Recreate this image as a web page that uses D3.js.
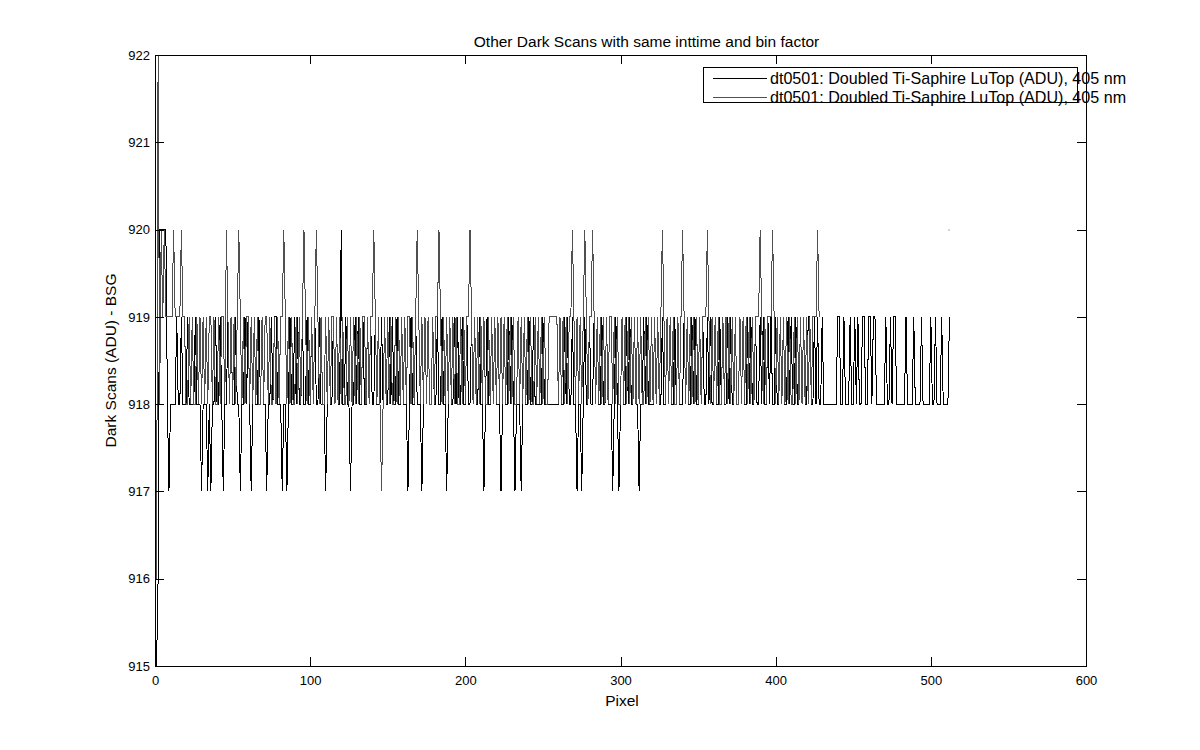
<!DOCTYPE html>
<html><head><meta charset="utf-8">
<script src="https://cdn.jsdelivr.net/npm/d3@7"></script>
<style>
body{margin:0;background:#fff;}
svg text{font-family:"Liberation Sans",Arial,sans-serif;fill:#000;}
</style></head><body>
<svg id="chart" width="1200" height="750"></svg>
<script>
const chartTitle = "Other Dark Scans with same inttime and bin factor";
const xLabel = "Pixel";
const yLabel = "Dark Scans (ADU) - BSG";
const legendLabels = ["dt0501: Doubled Ti-Saphire LuTop (ADU), 405 nm", "dt0501: Doubled Ti-Saphire LuTop (ADU), 405 nm"];
const xTicks = [0, 100, 200, 300, 400, 500, 600];
const yTicks = [915, 916, 917, 918, 919, 920, 921, 922];

// series 1 (black), value for pixel 1..512
const blackScan = [
915,916,920,920,920,920,920, 918,917,918,918,918,918,919,918, 918,919,918,918,918,919,918,918, 918,918,919,918,918,918,917,918,
918,918,917,918,917,918,918,919, 918,918,919,918,917,918,918,919, 918,919,918,918,919,918,918,917, 918,918,919,918,919,918,917,918,
919,918,918,919,918,919,918,918, 917,918,918,919,918,919,919,918, 918,918,917,918,918,917,918,919, 918,918,919,918,919,918,918,919,
918,918,919,918,918,919,918,919, 918,918,919,918,918,918,917,918, 919,918,918,919,918,919,918,918, 920,918,918,919,918,918,917,918,
918,919,918,919,918,918,919,918, 918,919,918,919,918,918,919,918, 918,918,919,918,919,918,918,919, 918,919,918,918,919,918,918,919,
918,918,918,917,918,919,918,918, 919,918,918,918,917,918,919,918, 919,918,918,919,918,918,919,918, 918,919,918,918,917,918,919,918,
918,919,918,919,918,918,919,918, 918,919,918,918,919,918,919,918, 918,919,918,918,917,918,919,918, 918,919,918,919,918,918,918,917,
918,919,918,918,919,918,919,918, 917,918,918,918,917,918,919,918, 918,919,918,918,919,918,918,918, 918,918,919,918,918,918,918,918,
918,918,918,918,918,919,918,918, 919,918,919,918,918,919,918,918, 917,918,918,917,918,919,918,918, 919,918,918,919,918,919,918,918,
919,918,918,919,918,918,918,917, 918,919,918,917,918,919,918,918, 919,918,919,918,918,919,918,918, 917,918,918,919,918,919,918,918,
918,918,919,918,919,918,918,919, 918,918,919,918,919,918,918,919, 918,919,918,918,918,919,918,919, 918,918,919,918,919,918,918,919,
918,919,918,918,919,918,919,918, 918,919,918,918,919,918,919,918, 918,919,918,919,918,918,919,918, 918,919,918,919,918,918,919,918,
919,918,918,919,918,918,919,918, 919,918,918,919,918,919,918,918, 919,918,918,919,918,919,918,918, 919,918,919,918,918,919,918,918,
919,918,919,918,918,919,919,918, 918,919,918,919,918,918,919,918, 918,918,918,918,918,918,918,918, 919,919,918,918,919,918,918,918,
919,918,918,919,918,919,918,918, 919,919,918,918,919,919,918,919, 919,918,918,918,918,918,918,919, 918,918,919,918,919,919,918,918,
918,918,918,918,919,918,918,918, 918,919,918,918,918,918,919,918, 918,918,918,918,919,918,918,919, 918,918,918,919,918,918,918,918,919
];

// series 2 (grey), value for pixel 1..428
const grayScan = [
916,922,918,920,919,920,919,919, 919,919,919,920,919,919,919, 919,920,919,919,918,918,919,918, 919,918,918,919,918,919,918,919,
918,919,918,919,919,918,919,918, 918,919,918,919,919,918,920,919, 918,919,918,919,918,919,920,919, 918,919,918,919,919,918,919,918,
919,918,919,918,918,919,918,919, 919,918,919,918,918,919,918,919, 918,919,919,920,919,918,919,918, 919,918,918,919,918,919,918,919,
920,919,918,919,918,919,918,919, 920,919,918,919,918,918,919,918, 919,918,919,919,918,919,918,919, 918,919,918,918,919,918,919,918,
919,918,919,918,919,918,919,919, 918,919,918,919,919,920,919,918, 919,918,917,918,919,918,919,918, 919,918,918,919,918,919,918,919,
918,919,918,919,919,918,919,918, 919,920,919,918,919,918,919,918, 919,918,918,919,918,919,919,920, 919,918,919,918,919,918,919,918,
919,918,919,918,918,919,918,919, 918,919,919,920,919,918,919,918, 919,918,919,918,919,918,918,919, 918,919,918,919,918,919,918,919,
918,919,918,919,918,919,918,919, 918,918,919,918,919,918,919,918, 919,918,919,918,918,919,918,919, 918,919,918,919,918,918,919,919,
919,919,919,919,918,919,918,919, 918,919,918,919,919,920,919,918, 919,918,919,918,919,920,919,918, 919,919,920,919,918,919,918,919,
918,919,918,919,918,919,919,918, 919,918,919,918,918,919,918,919, 918,919,918,919,918,919,918,919, 918,919,918,918,919,918,919,918,
919,918,919,918,919,918,919,920, 919,918,919,918,919,918,919,918, 918,919,918,919,920,919,918,919, 918,919,918,919,918,919,918,919,
918,919,919,919,920,919,918,919, 918,919,918,919,918,918,919,918, 919,918,919,918,919,918,919,918, 918,919,918,919,918,919,918,919,
918,919,918,919,919,919,920,919, 918,919,918,919,919,919,920,919, 918,919,918,919,918,919,918,919, 918,919,918,918,919,918,919,918,
919,918,919,918,919,918,919,918, 919,919,919,920,919
];
// isolated grey sample at the far right
const grayTailPixel = [512];
const grayTailValue = [920];

const W = 1200, H = 750;
const plot = {left: 155, right: 1086, top: 55, bottom: 666};
const svg = d3.select("#chart");
svg.append("rect").attr("width", W).attr("height", H).attr("fill", "#fff");

const x = d3.scaleLinear().domain([0, 600]).range([plot.left, plot.right]);
const y = d3.scaleLinear().domain([915, 922]).range([plot.bottom, plot.top]);

const colors = ["#000000", "#505050"];

// data lines (pixel numbering starts at 1)
const line = d3.line().x((d, i) => x(i + 1)).y(d => y(d));
svg.append("path").datum(blackScan).attr("d", line)
  .attr("fill", "none").attr("stroke", colors[0]).attr("stroke-width", 1)
  .attr("shape-rendering", "crispEdges");
svg.append("path").datum(grayScan).attr("d", line)
  .attr("fill", "none").attr("stroke", colors[1]).attr("stroke-width", 1)
  .attr("shape-rendering", "crispEdges");
svg.selectAll("rect.tail").data(grayTailPixel).enter().append("rect")
  .attr("class", "tail")
  .attr("x", d => Math.round(x(d)) - 0.5).attr("y", (d, i) => Math.round(y(grayTailValue[i])) - 0.5)
  .attr("width", 1).attr("height", 1).attr("fill", colors[1]);

// axes
function styleAxis(g, fs) {
  g.selectAll(".domain").remove();
  g.selectAll(".tick line").attr("stroke", "#000").attr("shape-rendering", "crispEdges");
  g.selectAll(".tick text").attr("font-size", fs).attr("fill", "#000")
   .attr("font-family", '"Liberation Sans", Arial, sans-serif');
}
svg.append("g").attr("transform", `translate(0,${plot.bottom})`)
  .call(d3.axisBottom(x).tickValues(xTicks).tickSizeInner(-9).tickSizeOuter(0).tickPadding(10).tickFormat(d3.format("d")))
  .call(g => styleAxis(g, 13));
svg.append("g").attr("transform", `translate(0,${plot.top})`)
  .call(d3.axisTop(x).tickValues(xTicks).tickSizeInner(-9).tickSizeOuter(0).tickFormat(""))
  .call(g => styleAxis(g, 13));
svg.append("g").attr("transform", `translate(${plot.left},0)`)
  .call(d3.axisLeft(y).tickValues(yTicks).tickSizeInner(-9).tickSizeOuter(0).tickPadding(5).tickFormat(d3.format("d")))
  .call(g => styleAxis(g, 13));
svg.append("g").attr("transform", `translate(${plot.right},0)`)
  .call(d3.axisRight(y).tickValues(yTicks).tickSizeInner(-9).tickSizeOuter(0).tickFormat(""))
  .call(g => styleAxis(g, 13));

// axes box
svg.append("rect").attr("x", plot.left + 0.5).attr("y", plot.top + 0.5)
  .attr("width", plot.right - plot.left).attr("height", plot.bottom - plot.top)
  .attr("fill", "none").attr("stroke", "#000").attr("stroke-width", 1)
  .attr("shape-rendering", "crispEdges");

// title and labels
svg.append("text").attr("x", 646.5).attr("y", 47).attr("text-anchor", "middle")
  .attr("font-size", 15.5).text(chartTitle);
svg.append("text").attr("x", 622).attr("y", 706).attr("text-anchor", "middle")
  .attr("font-size", 15.5).text(xLabel);
svg.append("text").attr("transform", `translate(116,${(plot.top + plot.bottom) / 2}) rotate(-90)`)
  .attr("text-anchor", "middle").attr("font-size", 15.5).text(yLabel);

// legend
const leg = svg.append("g");
leg.append("rect").attr("x", 703.5).attr("y", 67.5).attr("width", 374).attr("height", 35)
  .attr("fill", "#fff").attr("stroke", "#000").attr("shape-rendering", "crispEdges");
legendLabels.forEach((lab, i) => {
  const yy = 78.5 + i * 19;
  leg.append("line").attr("x1", 713).attr("x2", 767).attr("y1", yy).attr("y2", yy)
    .attr("stroke", colors[i]).attr("stroke-width", 1).attr("shape-rendering", "crispEdges");
  leg.append("text").attr("x", 770).attr("y", yy + 5.5).attr("font-size", 16.1).text(lab);
});
</script>
</body></html>
